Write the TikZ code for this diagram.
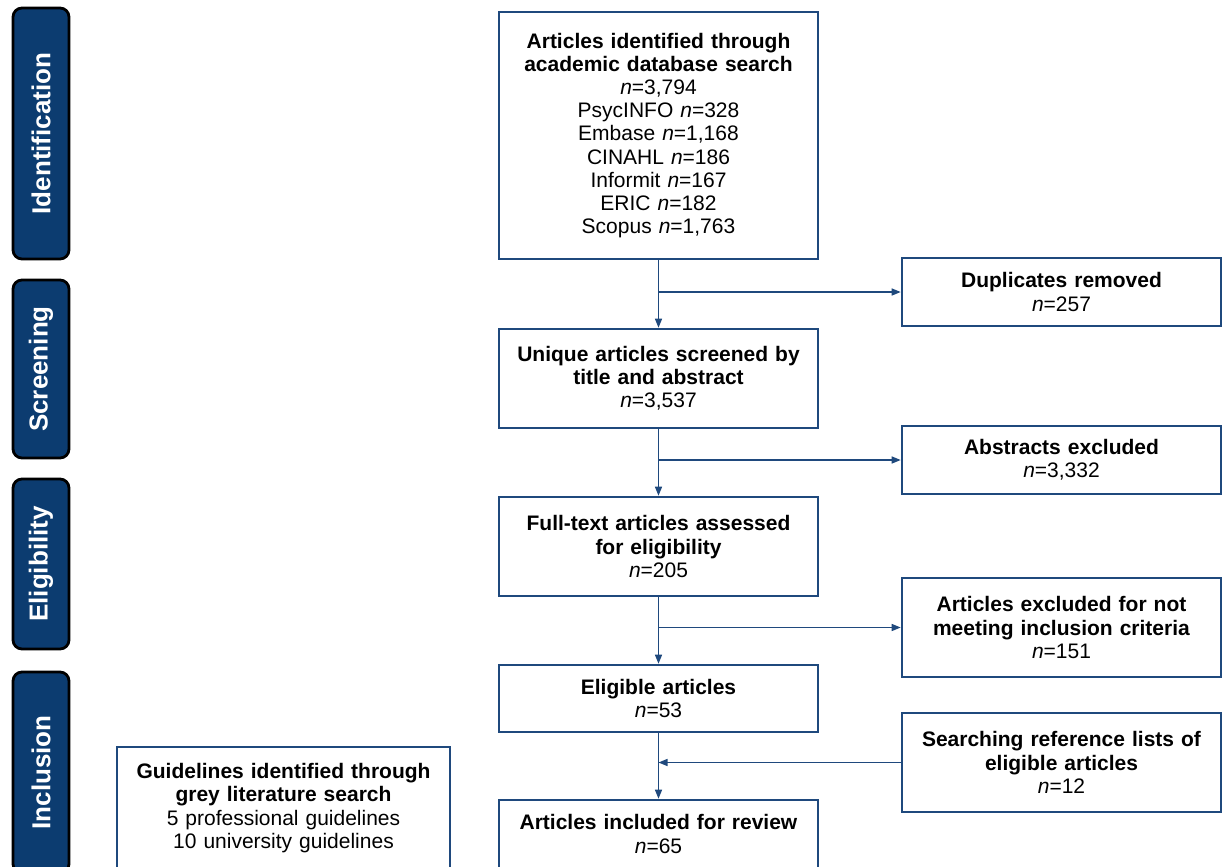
\documentclass[tikz,border=0pt]{standalone}
\usepackage{fontspec}
\setmainfont{Liberation Sans}
\usetikzlibrary{arrows.meta}
\definecolor{boxblue}{RGB}{31,73,125}
\definecolor{stagefill}{RGB}{12,60,112}
\tikzset{
  box/.style={draw=boxblue, line width=2.6pt, minimum width=319pt, align=center,
    font=\fontsize{21}{23.2}\selectfont, inner sep=0pt, text width=312pt},
  stage/.style={draw=black, fill=stagefill, rounded corners=9pt, line width=2.8pt,
    minimum height=56pt, text=white, font=\fontsize{26}{30}\selectfont\bfseries,
    rotate=90, inner sep=0pt},
  conn/.style={draw=boxblue, line width=1.4pt},
  arr/.style={conn, -{Triangle[length=9pt,width=7pt]}},
}
\begin{document}
\begin{tikzpicture}[x=1pt,y=1pt]
\useasboundingbox (0,0) rectangle (1226,-867);
\clip (0,0) rectangle (1226,-867);
% stage labels
\node[stage, minimum width=251pt] (sid) at (41,-133.5) {Identification};
\node[stage, minimum width=178pt] (ssc) at (41,-369) {Screening};
\node[stage, minimum width=170pt] (sel) at (41,-564) {Eligibility};
\node[stage, minimum width=201pt] (sin) at (41,-772.5) {Inclusion};
% main column
\node[box, minimum height=247pt] (b1) at (658.5,-135.5)
  {\textbf{Articles identified through}\\\textbf{academic database search}\\
   \textit{n}=3,794\\PsycINFO \textit{n}=328\\Embase \textit{n}=1,168\\
   CINAHL \textit{n}=186\\Informit \textit{n}=167\\ERIC \textit{n}=182\\
   Scopus \textit{n}=1,763};
\node[box, minimum height=99pt] (b2) at (658.5,-378.5)
  {\textbf{Unique articles screened by}\\\textbf{title and abstract}\\\textit{n}=3,537};
\node[box, minimum height=99pt] (b3) at (658.5,-546.5)
  {\textbf{Full-text articles assessed}\\\textbf{for eligibility}\\\textit{n}=205};
\node[box, minimum height=67pt] (b4) at (658.5,-698.5)
  {\textbf{Eligible articles}\\\textit{n}=53};
\node[box, minimum height=68pt] (b5) at (658.5,-834)
  {\textbf{Articles included for review}\\\textit{n}=65};
% right column
\node[box, minimum height=68pt] (dup) at (1061.5,-292)
  {\textbf{Duplicates removed}\\\textit{n}=257};
\node[box, minimum height=68pt] (abs) at (1061.5,-460)
  {\textbf{Abstracts excluded}\\\textit{n}=3,332};
\node[box, minimum height=99pt] (artex) at (1061.5,-627.5)
  {\textbf{Articles excluded for not}\\\textbf{meeting inclusion criteria}\\\textit{n}=151};
\node[box, minimum height=99pt] (srch) at (1061.5,-762.5)
  {\textbf{Searching reference lists of}\\\textbf{eligible articles}\\\textit{n}=12};
% grey literature
\node[box, minimum width=333pt, minimum height=122pt] (grey) at (283.5,-808)
  {\textbf{Guidelines identified through}\\\textbf{grey literature search}\\
   5 professional guidelines\\10 university guidelines};
% connectors
\draw[arr] (b1.south) -- (b2.north);
\draw[arr] (b2.south) -- (b3.north);
\draw[arr] (b3.south) -- (b4.north);
\draw[arr] (b4.south) -- (b5.north);
\draw[arr] (b1.south |- dup.west) -- (dup.west);
\draw[arr] (b2.south |- abs.west) -- (abs.west);
\draw[arr] (b3.south |- artex.west) -- (artex.west);
\draw[arr] (srch.west) -- (srch.west -| b4.south);
\end{tikzpicture}
\end{document}
